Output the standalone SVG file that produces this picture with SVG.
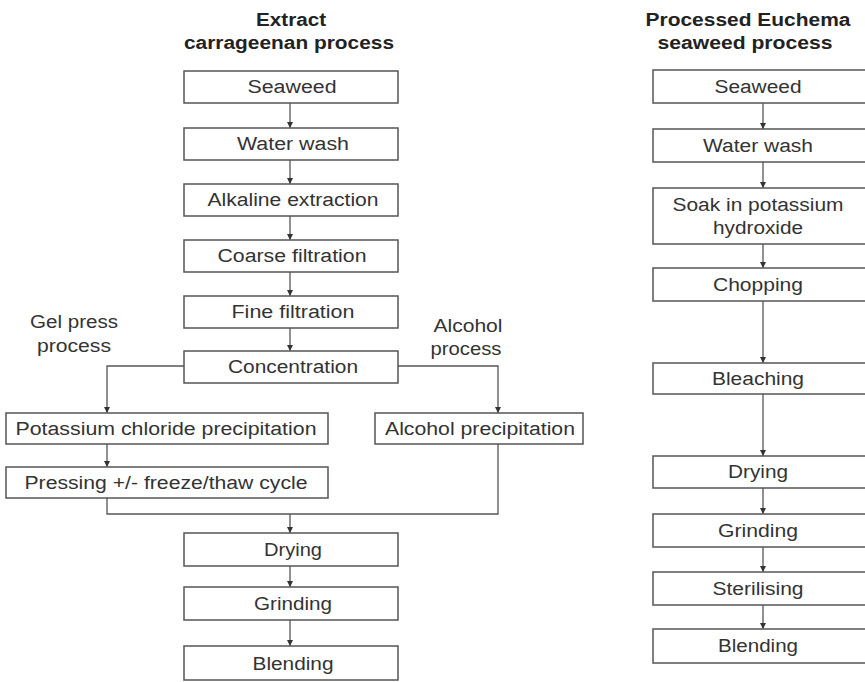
<svg xmlns="http://www.w3.org/2000/svg" width="865" height="682" viewBox="0 0 865 682">
<style>
.bx{fill:#fff;stroke:#555;stroke-width:1.5}
.t{font-family:"Liberation Sans",Arial,sans-serif;font-size:18px;fill:#333;text-anchor:middle}
.h{font-family:"Liberation Sans",Arial,sans-serif;font-size:18px;font-weight:bold;fill:#222;text-anchor:middle}
.c{fill:none;stroke:#555;stroke-width:1.3}
</style>
<defs>
<marker id="ar" markerUnits="userSpaceOnUse" markerWidth="6" markerHeight="6" refX="6" refY="3" orient="auto">
<path d="M0,0 L6,3 L0,6 Z" fill="#333"/>
</marker>
</defs>
<rect width="865" height="682" fill="#fff"/>

<g id="titles">
<text class="h" x="291" y="26" textLength="70" lengthAdjust="spacingAndGlyphs">Extract</text>
<text class="h" x="289" y="49" textLength="210" lengthAdjust="spacingAndGlyphs">carrageenan process</text>
<text class="h" x="748" y="26" textLength="205" lengthAdjust="spacingAndGlyphs">Processed Euchema</text>
<text class="h" x="745" y="49" textLength="175" lengthAdjust="spacingAndGlyphs">seaweed process</text>
<text class="t" x="74" y="328" textLength="88" lengthAdjust="spacingAndGlyphs">Gel press</text>
<text class="t" x="74" y="352" textLength="74" lengthAdjust="spacingAndGlyphs">process</text>
<text class="t" x="468" y="332" textLength="69" lengthAdjust="spacingAndGlyphs">Alcohol</text>
<text class="t" x="466" y="355" textLength="71" lengthAdjust="spacingAndGlyphs">process</text>
</g>

<g id="connectors">
<line class="c" x1="290" y1="103" x2="290" y2="128" marker-end="url(#ar)"/>
<line class="c" x1="290" y1="160" x2="290" y2="184" marker-end="url(#ar)"/>
<line class="c" x1="290" y1="216" x2="290" y2="240" marker-end="url(#ar)"/>
<line class="c" x1="290" y1="272" x2="290" y2="296" marker-end="url(#ar)"/>
<line class="c" x1="290" y1="328" x2="290" y2="351" marker-end="url(#ar)"/>
<polyline class="c" points="184,366 107,366 107,413" marker-end="url(#ar)"/>
<polyline class="c" points="398,366 498,366 498,413" marker-end="url(#ar)"/>
<line class="c" x1="107" y1="444" x2="107" y2="467" marker-end="url(#ar)"/>
<polyline class="c" points="107,498 107,514 498,514 498,444"/>
<line class="c" x1="290" y1="514" x2="290" y2="533" marker-end="url(#ar)"/>
<line class="c" x1="290" y1="566" x2="290" y2="587" marker-end="url(#ar)"/>
<line class="c" x1="290" y1="620" x2="290" y2="646" marker-end="url(#ar)"/>

<line class="c" x1="763" y1="103" x2="763" y2="129" marker-end="url(#ar)"/>
<line class="c" x1="763" y1="162" x2="763" y2="188" marker-end="url(#ar)"/>
<line class="c" x1="763" y1="244" x2="763" y2="268" marker-end="url(#ar)"/>
<line class="c" x1="763" y1="301" x2="763" y2="363" marker-end="url(#ar)"/>
<line class="c" x1="763" y1="394" x2="763" y2="456" marker-end="url(#ar)"/>
<line class="c" x1="763" y1="488" x2="763" y2="514" marker-end="url(#ar)"/>
<line class="c" x1="763" y1="547" x2="763" y2="572" marker-end="url(#ar)"/>
<line class="c" x1="763" y1="605" x2="763" y2="629" marker-end="url(#ar)"/>
</g>

<g id="l-seaweed"><rect class="bx" x="184" y="71" width="214" height="32"/><text class="t" x="292" y="93" textLength="89" lengthAdjust="spacingAndGlyphs">Seaweed</text></g>
<g id="l-waterwash"><rect class="bx" x="184" y="128" width="214" height="32"/><text class="t" x="293" y="150" textLength="112" lengthAdjust="spacingAndGlyphs">Water wash</text></g>
<g id="l-alkaline"><rect class="bx" x="184" y="184" width="214" height="32"/><text class="t" x="293" y="206" textLength="171" lengthAdjust="spacingAndGlyphs">Alkaline extraction</text></g>
<g id="l-coarse"><rect class="bx" x="184" y="240" width="214" height="32"/><text class="t" x="292" y="262" textLength="149" lengthAdjust="spacingAndGlyphs">Coarse filtration</text></g>
<g id="l-fine"><rect class="bx" x="184" y="296" width="214" height="32"/><text class="t" x="293" y="318" textLength="123" lengthAdjust="spacingAndGlyphs">Fine filtration</text></g>
<g id="l-concentration"><rect class="bx" x="184" y="351" width="214" height="32"/><text class="t" x="293" y="373" textLength="130" lengthAdjust="spacingAndGlyphs">Concentration</text></g>
<g id="l-kcl"><rect class="bx" x="6" y="413" width="322" height="31"/><text class="t" x="166" y="435" textLength="301" lengthAdjust="spacingAndGlyphs">Potassium chloride precipitation</text></g>
<g id="l-alcohol"><rect class="bx" x="375" y="413" width="208" height="31"/><text class="t" x="480" y="435" textLength="190" lengthAdjust="spacingAndGlyphs">Alcohol precipitation</text></g>
<g id="l-pressing"><rect class="bx" x="6" y="467" width="322" height="31"/><text class="t" x="166" y="489" textLength="283" lengthAdjust="spacingAndGlyphs">Pressing +/- freeze/thaw cycle</text></g>
<g id="l-drying"><rect class="bx" x="184" y="533" width="214" height="33"/><text class="t" x="293" y="556" textLength="58" lengthAdjust="spacingAndGlyphs">Drying</text></g>
<g id="l-grinding"><rect class="bx" x="184" y="587" width="214" height="33"/><text class="t" x="293" y="610" textLength="78" lengthAdjust="spacingAndGlyphs">Grinding</text></g>
<g id="l-blending"><rect class="bx" x="184" y="646" width="214" height="34"/><text class="t" x="293" y="670" textLength="81" lengthAdjust="spacingAndGlyphs">Blending</text></g>

<g id="r-seaweed"><rect class="bx" x="653" y="70" width="216" height="33"/><text class="t" x="758" y="93" textLength="87" lengthAdjust="spacingAndGlyphs">Seaweed</text></g>
<g id="r-waterwash"><rect class="bx" x="653" y="129" width="216" height="33"/><text class="t" x="758" y="152" textLength="110" lengthAdjust="spacingAndGlyphs">Water wash</text></g>
<g id="r-soak"><rect class="bx" x="653" y="188" width="216" height="56"/><text class="t" x="758" y="211" textLength="171" lengthAdjust="spacingAndGlyphs">Soak in potassium</text><text class="t" x="758" y="234" textLength="90" lengthAdjust="spacingAndGlyphs">hydroxide</text></g>
<g id="r-chopping"><rect class="bx" x="653" y="268" width="216" height="33"/><text class="t" x="758" y="291" textLength="90" lengthAdjust="spacingAndGlyphs">Chopping</text></g>
<g id="r-bleaching"><rect class="bx" x="653" y="363" width="216" height="31"/><text class="t" x="758" y="385" textLength="92" lengthAdjust="spacingAndGlyphs">Bleaching</text></g>
<g id="r-drying"><rect class="bx" x="653" y="456" width="216" height="32"/><text class="t" x="758" y="478" textLength="60" lengthAdjust="spacingAndGlyphs">Drying</text></g>
<g id="r-grinding"><rect class="bx" x="653" y="514" width="216" height="33"/><text class="t" x="758" y="537" textLength="80" lengthAdjust="spacingAndGlyphs">Grinding</text></g>
<g id="r-sterilising"><rect class="bx" x="653" y="572" width="216" height="33"/><text class="t" x="758" y="595" textLength="91" lengthAdjust="spacingAndGlyphs">Sterilising</text></g>
<g id="r-blending"><rect class="bx" x="653" y="629" width="216" height="34"/><text class="t" x="758" y="652" textLength="80" lengthAdjust="spacingAndGlyphs">Blending</text></g>
</svg>
